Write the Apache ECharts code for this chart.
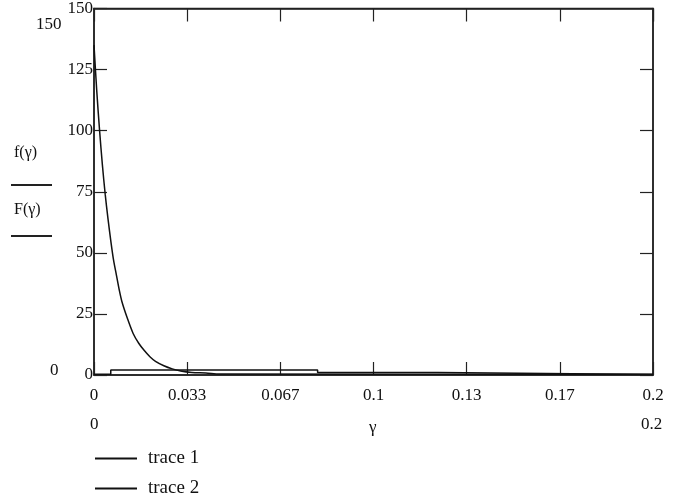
<!DOCTYPE html>
<html><head><meta charset="utf-8">
<script src="https://cdn.jsdelivr.net/npm/echarts@6/dist/echarts.min.js"></script>
<style>html,body{margin:0;padding:0;background:#fff}#c{width:674px;height:501px}</style>
</head><body><div id="c"></div>
<script>
// trace 1: f(γ)
const gamma1 = [0,0.001,0.002,0.003,0.004,0.005,0.006,0.007,0.008,0.009,0.010,0.012,0.014,0.016,0.018,0.020,0.022,0.025,0.028,0.031,0.035,0.040,0.045,0.2];
const trace1 = [135,116,100,86,74,64,55,47,41,35,30,23,17,13,10,7.5,5.6,3.8,2.5,1.6,1.0,0.8,0.4,0.3];
// trace 2: F(γ) (step outline)
const gamma2 = [0,0.006,0.006,0.080,0.080,0.123,0.123,0.2];
const trace2 = [0.3,0.3,2.0,2.0,1.0,1.0,0.2,0.2];
const xTickLabels = ['0','0.033','0.067','0.1','0.13','0.17','0.2'];
const yTickLabels = ['0','25','50','75','100','125','150'];
const seriesNames = ['trace 1', 'trace 2'];

const serif = '"Liberation Serif","DejaVu Serif",serif';
const chart = echarts.init(document.getElementById('c'));
const pts = (xs, ys) => xs.map((x, i) => [x, ys[i]]);
const L = 94, T = 7, W = 559, H = 368;
const tick = {show: true, inside: true, length: 13, lineStyle: {color: '#222', width: 1.2}};
const axLine = {show: true, onZero: false, lineStyle: {color: '#222', width: 1.5}};
const legendFor = (name, top) => ({
  orient: 'horizontal', left: 90, top: top, itemGap: 10,
  icon: 'rect', itemWidth: 42, itemHeight: 2,
  textStyle: {fontFamily: serif, fontSize: 19, color: '#111', padding: [0, 0, 0, 6]},
  data: [name]
});
chart.setOption({
  animation: false,
  grid: {left: L, top: T, width: W, height: H, show: true, borderColor: '#222', borderWidth: 1.5},
  xAxis: [{
    type: 'value', position: 'bottom', min: 0, max: 0.2, interval: 0.2 / 6,
    axisLine: axLine, axisTick: tick, splitLine: {show: false},
    axisLabel: {fontFamily: serif, fontSize: 17, color: '#111', margin: 12,
      formatter: v => xTickLabels[Math.round(v * 30)]}
  }, {
    type: 'value', position: 'top', min: 0, max: 0.2, interval: 0.2 / 6,
    axisLine: axLine, axisTick: tick, splitLine: {show: false}, axisLabel: {show: false}
  }],
  yAxis: [{
    type: 'value', position: 'left', min: 0, max: 150, interval: 25,
    axisLine: axLine, axisTick: tick, splitLine: {show: false},
    axisLabel: {fontFamily: serif, fontSize: 17, color: '#111', margin: 1,
      formatter: v => yTickLabels[Math.round(v / 25)]}
  }, {
    type: 'value', position: 'right', min: 0, max: 150, interval: 25,
    axisLine: axLine, axisTick: tick, splitLine: {show: false}, axisLabel: {show: false}
  }],
  legend: [legendFor(seriesNames[0], 444), legendFor(seriesNames[1], 474)],
  series: [
    {name: seriesNames[0], type: 'line', data: pts(gamma1, trace1), smooth: 0.3, showSymbol: false,
     lineStyle: {color: '#111', width: 1.5}, itemStyle: {color: '#111'}},
    {name: seriesNames[1], type: 'line', data: pts(gamma2, trace2), showSymbol: false,
     lineStyle: {color: '#111', width: 1.5}, itemStyle: {color: '#111'}}
  ],
  graphic: [
    {type: 'text', left: 36, top: 16, style: {text: '150', font: '17px ' + serif, fill: '#111'}},
    {type: 'text', left: 50, top: 362, style: {text: '0', font: '17px ' + serif, fill: '#111'}},
    {type: 'text', left: 90, top: 416, style: {text: '0', font: '17px ' + serif, fill: '#111'}},
    {type: 'text', left: 369, top: 419, style: {text: 'γ', font: '17px ' + serif, fill: '#111'}},
    {type: 'text', left: 641, top: 416, style: {text: '0.2', font: '17px ' + serif, fill: '#111'}},
    {type: 'text', left: 14, top: 145, style: {text: 'f(γ)', font: '16px ' + serif, fill: '#111'}},
    {type: 'line', shape: {x1: 11, y1: 185, x2: 52, y2: 185}, style: {stroke: '#222', lineWidth: 2}},
    {type: 'text', left: 14, top: 202, style: {text: 'F(γ)', font: '16px ' + serif, fill: '#111'}},
    {type: 'line', shape: {x1: 11, y1: 236, x2: 52, y2: 236}, style: {stroke: '#222', lineWidth: 2}}
  ]
});
</script></body></html>
